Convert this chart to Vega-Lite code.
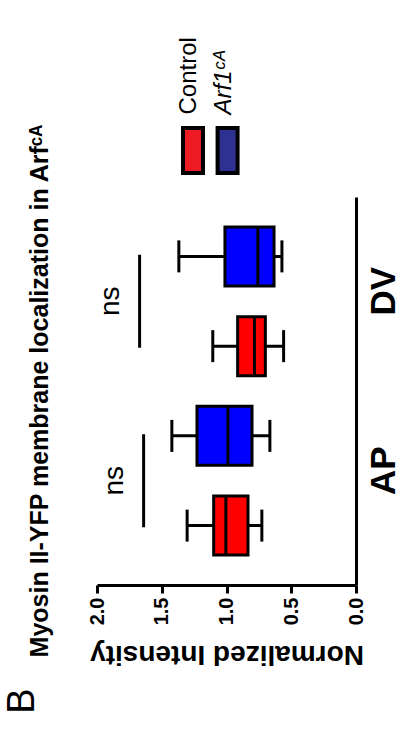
{
  "$schema": "https://vega.github.io/schema/vega-lite/v6.json",
  "background": "white",
  "autosize": {"type": "pad"},
  "padding": {"left": 3, "top": 37, "right": 0, "bottom": 0},
  "spacing": 24,
  "bounds": "flush",
  "title": {"text": "B", "orient": "left", "anchor": "start", "fontSize": 38, "fontWeight": "normal", "font": "Liberation Sans", "color": "black", "offset": -14, "dx": -46},
  "config": {
    "view": {"stroke": null},
    "font": "Liberation Sans",
    "axis": {"labelFont": "Liberation Sans", "titleFont": "Liberation Sans"},
    "tick": {"opacity": 1}
  },
  "datasets": {
    "boxes": [
      {"group": "AP", "condition": "Control", "min": 0.727, "q1": 0.834, "median": 1.005, "q3": 1.099, "max": 1.304},
      {"group": "AP", "condition": "Arf1CA", "min": 0.665, "q1": 0.803, "median": 0.989, "q3": 1.228, "max": 1.422},
      {"group": "DV", "condition": "Control", "min": 0.559, "q1": 0.700, "median": 0.784, "q3": 0.914, "max": 1.106},
      {"group": "DV", "condition": "Arf1CA", "min": 0.572, "q1": 0.633, "median": 0.758, "q3": 1.012, "max": 1.368}
    ],
    "sig": [
      {"group": "AP", "value": 1.64, "label": "ns"},
      {"group": "DV", "value": 1.671, "label": "ns"}
    ],
    "legend": [
      {"condition": "Control", "label": "Control", "style": "normal"},
      {"condition": "Arf1CA", "label": "Arf1ᶜᴬ", "style": "italic"}
    ]
  },
  "vconcat": [
    {
      "width": 157.4,
      "height": 45,
      "data": {"name": "legend"},
      "layer": [
        {
          "mark": {"type": "rect", "stroke": "black", "strokeWidth": 4},
          "encoding": {
            "x": {"field": "condition", "type": "nominal", "scale": {"domain": ["d1", "d2", "Control", "Arf1CA"], "paddingInner": 0.422, "paddingOuter": 0.486, "align": 0.5, "round": false}, "axis": null},
            "fill": {"field": "condition", "type": "nominal", "scale": {"domain": ["Control", "Arf1CA"], "range": ["#ed1c24", "#2e3192"]}, "legend": null}
          }
        },
        {
          "transform": [{"filter": "datum.style == 'normal'"}],
          "mark": {"type": "text", "angle": 270, "align": "left", "baseline": "middle", "dx": 36, "dy": -4, "fontSize": 24, "color": "black", "font": "Liberation Sans"},
          "encoding": {
            "x": {"field": "condition", "type": "nominal"},
            "text": {"field": "label"}
          }
        },
        {
          "transform": [{"filter": "datum.style == 'italic'"}],
          "mark": {"type": "text", "angle": 270, "align": "left", "baseline": "middle", "dx": 36, "dy": -4, "fontSize": 24, "fontStyle": "italic", "color": "black", "font": "Liberation Sans"},
          "encoding": {
            "x": {"field": "condition", "type": "nominal"},
            "text": {"field": "label"}
          }
        }
      ]
    },
    {
      "width": 259,
      "height": 388,
      "title": {"text": "Myosin II-YFP membrane localization in Arfᶜᴬ", "orient": "left", "anchor": "middle", "fontSize": 25, "fontWeight": "bold", "font": "Liberation Sans", "color": "black", "offset": 34},
      "data": {"name": "boxes"},
      "layer": [
        {
          "mark": {"type": "rule", "color": "black", "strokeWidth": 3},
          "encoding": {
            "x": {"field": "min", "type": "quantitative", "title": "Normalized Intensity",
                  "scale": {"domain": [0, 2], "reverse": true, "nice": false, "zero": false},
                  "axis": {"values": [0, 0.5, 1, 1.5, 2], "format": ".1f", "labelAngle": 270, "labelFontSize": 20, "labelFontWeight": "bold", "labelColor": "black", "labelPadding": 4, "labelFlush": false, "labelOverlap": false, "tickSize": 8, "tickWidth": 3, "tickColor": "black", "domainWidth": 3, "domainColor": "black", "grid": false, "titleAngle": 180, "titleFontSize": 28, "titleFontWeight": "bold", "titleColor": "black", "titleBaseline": "alphabetic", "titlePadding": 21}},
            "x2": {"field": "max"},
            "y": {"field": "group", "type": "nominal", "scale": {"domain": ["DV", "AP"], "paddingInner": 0, "paddingOuter": 0.0808, "round": false},
                  "axis": {"orient": "right", "title": null, "ticks": false, "domainWidth": 3, "domainColor": "black", "labelAngle": 270, "labelFontSize": 35, "labelFontWeight": "bold", "labelColor": "black", "labelPadding": 10, "labelOffset": -10}},
            "yOffset": {"field": "condition", "type": "nominal", "scale": {"domain": ["Arf1CA", "Control"], "paddingInner": 0, "paddingOuter": 0}}
          }
        },
        {
          "mark": {"type": "tick", "color": "black", "thickness": 3, "size": 32, "opacity": 1},
          "encoding": {
            "x": {"field": "min", "type": "quantitative", "title": "Normalized Intensity"},
            "y": {"field": "group", "type": "nominal"},
            "yOffset": {"field": "condition", "type": "nominal"}
          }
        },
        {
          "mark": {"type": "tick", "color": "black", "thickness": 3, "size": 32, "opacity": 1},
          "encoding": {
            "x": {"field": "max", "type": "quantitative", "title": "Normalized Intensity"},
            "y": {"field": "group", "type": "nominal"},
            "yOffset": {"field": "condition", "type": "nominal"}
          }
        },
        {
          "mark": {"type": "bar", "size": 59, "stroke": "black", "strokeWidth": 3, "opacity": 1},
          "encoding": {
            "x": {"field": "q1", "type": "quantitative", "title": "Normalized Intensity"},
            "x2": {"field": "q3"},
            "y": {"field": "group", "type": "nominal"},
            "yOffset": {"field": "condition", "type": "nominal"},
            "color": {"field": "condition", "type": "nominal", "scale": {"domain": ["Control", "Arf1CA"], "range": ["#ff0000", "#0000ff"]}, "legend": null}
          }
        },
        {
          "mark": {"type": "tick", "color": "black", "thickness": 3, "size": 59, "opacity": 1},
          "encoding": {
            "x": {"field": "median", "type": "quantitative", "title": "Normalized Intensity"},
            "y": {"field": "group", "type": "nominal"},
            "yOffset": {"field": "condition", "type": "nominal"}
          }
        },
        {
          "data": {"name": "sig"},
          "mark": {"type": "tick", "color": "black", "thickness": 3, "size": 93, "opacity": 1},
          "encoding": {
            "x": {"field": "value", "type": "quantitative", "title": "Normalized Intensity"},
            "y": {"field": "group", "type": "nominal"}
          }
        },
        {
          "data": {"name": "sig"},
          "mark": {"type": "text", "angle": 270, "align": "center", "baseline": "alphabetic", "dy": -21, "fontSize": 28, "color": "black", "font": "Liberation Sans"},
          "encoding": {
            "x": {"field": "value", "type": "quantitative", "title": "Normalized Intensity"},
            "y": {"field": "group", "type": "nominal"},
            "text": {"field": "label"}
          }
        }
      ]
    }
  ]
}
